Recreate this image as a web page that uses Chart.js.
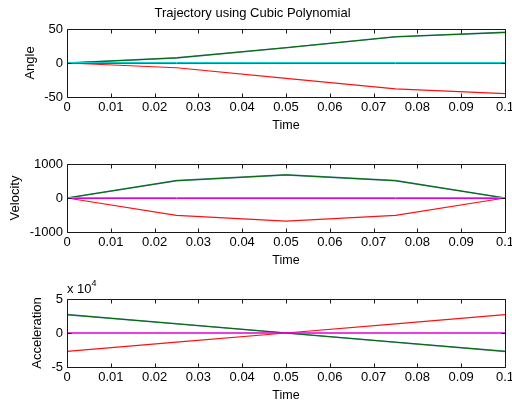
<!DOCTYPE html>
<html><head><meta charset="utf-8">
<script src="https://cdn.jsdelivr.net/npm/chart.js@4"></script>
<style>
html,body{margin:0;padding:0;background:#fff;overflow:hidden;width:512px;height:404px;}
canvas{position:absolute;left:0;}
#exp{position:absolute;left:67px;top:280px;font:13px "Liberation Sans",Arial,sans-serif;color:#000;white-space:nowrap;}
#exp sup{font-size:9px;position:relative;top:-2px;}
</style></head><body>
<canvas id="c1" width="512" height="135" style="top:0"></canvas>
<canvas id="c2" width="512" height="135" style="top:135px"></canvas>
<canvas id="c3" width="512" height="135" style="top:270px"></canvas>
<div id="exp">x 10<sup>4</sup></div>
<script>
// ---- data ----
const time = [0, 0.025, 0.05, 0.075, 0.1];
const angleUp   = [0, 7.5, 22.5, 38.5, 45];
const angleDown = [0, -7, -22.5, -38, -45];
const angleZero = [0, 0, 0, 0, 0];
const velUp   = [0, 510, 680, 510, 0];
const velDown = [0, -510, -680, -510, 0];
const velZero = [0, 0, 0, 0, 0];
const accUp   = [27000, 13500, 0, -13500, -27000];
const accDown = [-27000, -13500, 0, 13500, 27000];
const accZero = [0, 0, 0, 0, 0];
const timeTicks = [0, 0.01, 0.02, 0.03, 0.04, 0.05, 0.06, 0.07, 0.08, 0.09, 0.1];
const timeTickLabels = ['0','0.01','0.02','0.03','0.04','0.05','0.06','0.07','0.08','0.09','0.1'];
const angleTicks = [-50, 0, 50];
const velTicks = [-1000, 0, 1000];
const accTicks = [-50000, 0, 50000];
const accTickLabels = ['-5', '0', '5'];

const FONT = '"Liberation Sans", Arial, sans-serif';

function pts(ys){ return time.map((t,i)=>({x:t,y:ys[i]})); }

// styling offset (in pixels) so overlapping zero lines stay visible side by side
const shiftPlugin = {
  id:'shift',
  beforeDatasetDraw(chart, args){
    const d = chart.data.datasets[args.index];
    const sh = (d && d.shiftPx) ? d.shiftPx : 0;
    chart.ctx.save();
    chart.ctx.translate(0, sh);
  },
  afterDatasetDraw(chart, args){
    chart.ctx.restore();
  }
};

const boxPlugin = {
  id:'box',
  afterDraw(chart){
    const {ctx, chartArea:a, scales} = chart;
    ctx.save();
    ctx.strokeStyle = '#1a1a1a';
    ctx.lineWidth = 1;
    const L=Math.round(a.left)+0.5, R=Math.round(a.right)+0.5, T=Math.round(a.top)+0.5, B=Math.round(a.bottom)+0.5;
    ctx.beginPath();
    ctx.rect(L, T, R-L, B-T);
    scales.x.ticks.forEach(tk=>{
      const x = Math.round(scales.x.getPixelForValue(tk.value))+0.5;
      ctx.moveTo(x,B); ctx.lineTo(x,B-4);
      ctx.moveTo(x,T); ctx.lineTo(x,T+4);
    });
    scales.y.ticks.forEach(tk=>{
      const y = Math.round(scales.y.getPixelForValue(tk.value))+0.5;
      ctx.moveTo(L,y); ctx.lineTo(L+4,y);
      ctx.moveTo(R,y); ctx.lineTo(R-4,y);
    });
    ctx.stroke();
    ctx.restore();
  }
};

function ds(data,color,w,shift){
  return {data:pts(data), borderColor:color, borderWidth:w, pointRadius:0, fill:false, tension:0, shiftPx:shift||0};
}

function makeChart(id, datasets, yTicks, yLabels, yTitle, yTitlePad, title){
  const opts = {
    responsive:false, animation:false,
    layout:{padding:{top: title?0:29, right:7, left:0, bottom:0}},
    plugins:{legend:{display:false}, tooltip:{enabled:false},
      title: title ? {display:true, text:title, color:'#000', font:{family:FONT, size:13, weight:'normal'}, padding:{top:5.5,bottom:7.9}} : {display:false}
    },
    scales:{
      x:{type:'linear', min:0, max:0.1,
        afterBuildTicks(s){ s.ticks = timeTicks.map(v=>({value:v})); },
        ticks:{color:'#000', font:{family:FONT,size:13}, padding:3, maxRotation:0, autoSkip:false,
          callback:(v,i)=>timeTickLabels[i]},
        grid:{display:false, drawTicks:false}, border:{display:false},
        title:{display:true, text:'Time', color:'#000', font:{family:FONT,size:12.5}, padding:{top:0,bottom:1.5}},
        afterFit(s){ s.height=38; s.paddingLeft=0; s.paddingRight=0; }
      },
      y:{type:'linear', min:yTicks[0], max:yTicks[yTicks.length-1],
        afterBuildTicks(s){ s.ticks = yTicks.map(v=>({value:v})); },
        ticks:{color:'#000', font:{family:FONT,size:13}, padding:4, autoSkip:false,
          callback:(v,i)=>yLabels[i]},
        grid:{display:false, drawTicks:false}, border:{display:false},
        title:{display:true, text:yTitle, color:'#000', font:{family:FONT,size:13}, padding:{top:yTitlePad,bottom:0}},
        afterFit(s){ s.width=67; s.paddingTop=0; s.paddingBottom=0; }
      }
    }
  };
  return new Chart(document.getElementById(id), {type:'line', data:{datasets}, options:opts, plugins:[shiftPlugin, boxPlugin]});
}

makeChart('c1', [
  ds(angleZero,'#e000e0',1,0.5),
  ds(angleZero,'#00d0d0',1,-0.5),
  ds(angleDown,'#ff1010',1.2),
  ds(angleUp,'#006a00',1),
  ds(angleUp,'#5a8f9c',1.6)
], angleTicks, angleTicks.map(String), 'Angle', 22.5, 'Trajectory using Cubic Polynomial');

makeChart('c2', [
  ds(velZero,'#e000e0',1,0.5),
  ds(velZero,'#00d0d0',1,-0.5),
  ds(velDown,'#ff1010',1.2),
  ds(velUp,'#006a00',1),
  ds(velUp,'#5a8f9c',1.6)
], velTicks, velTicks.map(String), 'Velocity', 7.5, null);

makeChart('c3', [
  ds(accZero,'#e000e0',1.5,0),
  ds(accDown,'#ff1010',1.2),
  ds(accUp,'#006a00',1),
  ds(accUp,'#5a8f9c',1.6)
], accTicks, accTickLabels, 'Acceleration', 30, null);
</script>
</body></html>
